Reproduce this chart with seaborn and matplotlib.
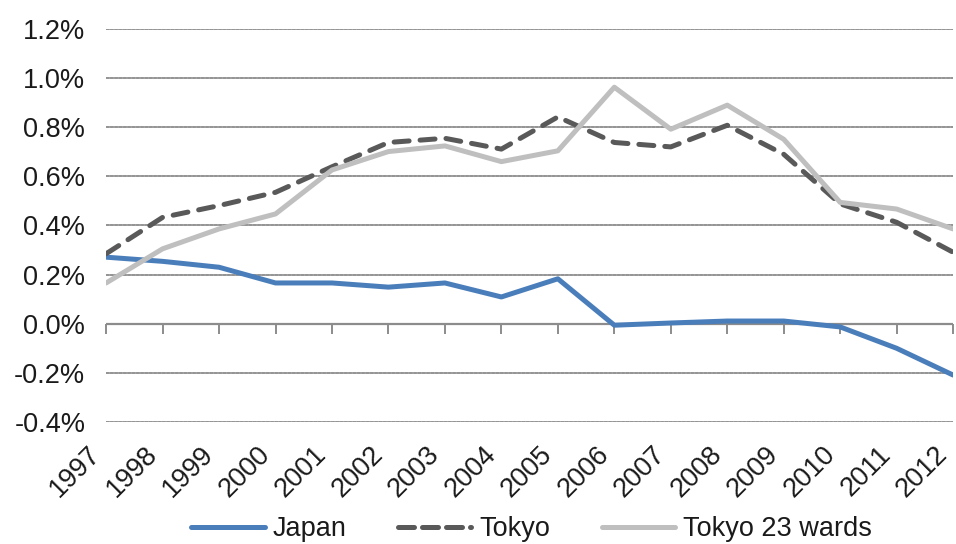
import matplotlib
matplotlib.use("Agg")
import matplotlib.pyplot as plt
from matplotlib.lines import Line2D
import seaborn as sns
import pandas as pd

years = list(range(1997, 2013))
japan = [0.271, 0.254, 0.230, 0.166, 0.166, 0.149, 0.166, 0.109, 0.183,
         -0.006, 0.003, 0.011, 0.011, -0.013, -0.100, -0.209]
tokyo = [0.285, 0.433, 0.481, 0.535, 0.639, 0.738, 0.755, 0.711, 0.842,
         0.738, 0.720, 0.808, 0.690, 0.488, 0.413, 0.291]
wards23 = [0.166, 0.305, 0.386, 0.447, 0.626, 0.701, 0.724, 0.660, 0.704,
           0.963, 0.792, 0.890, 0.751, 0.494, 0.467, 0.386]
series_names = ["Japan", "Tokyo", "Tokyo 23 wards"]
y_ticks = [-0.4, -0.2, 0.0, 0.2, 0.4, 0.6, 0.8, 1.0, 1.2]

df = pd.DataFrame({
    "year": years * 3,
    "rate": japan + tokyo + wards23,
    "series": sum([[n] * len(years) for n in series_names], []),
})

sns.set_style("white")
plt.rcParams["font.family"] = ["Liberation Sans", "DejaVu Sans"]
plt.rcParams["text.color"] = "#1a1a1a"

colors = {"Japan": "#4a7ebb", "Tokyo": "#595959", "Tokyo 23 wards": "#bfbfbf"}
dashes = {"Japan": "", "Tokyo": (3, 2.2), "Tokyo 23 wards": ""}
FS = 19.5

fig = plt.figure(figsize=(9.56, 5.44), dpi=100)
ax = fig.add_axes([0.111, 0.2243, 0.886, 0.7224])

# grid lines first so the series sit on top
for v in y_ticks:
    if v != 0.0:
        ax.axhline(v, color="#8a8a8a", lw=1.3, ls=(0, (1.6, 0.8)), zorder=1)
ax.axhline(0.0, color="#8c8c8c", lw=1.6, zorder=1)

sns.lineplot(data=df, x="year", y="rate", hue="series", style="series",
             palette=colors, dashes=dashes, lw=3.6, ax=ax, legend=False,
             zorder=3)
for ln in ax.lines:
    ln.set_dash_capstyle("round")
    ln.set_solid_capstyle("round")

ax.set_xlim(years[0], years[-1])
ax.set_ylim(-0.4, 1.2)
ax.set_yticks(y_ticks)
ax.set_yticklabels([f"{v:.1f}%" for v in y_ticks], fontsize=FS,
                   color="#1a1a1a")
ax.set_xticks(years)
ax.set_xticklabels([str(y) for y in years], fontsize=FS, rotation=45,
                   ha="right", va="top", color="#1a1a1a")
ax.tick_params(axis="x", length=0, pad=14)
ax.tick_params(axis="y", length=0, pad=15)
ax.set_xlabel("")
ax.set_ylabel("")
for s in ax.spines.values():
    s.set_visible(False)

# tick marks on the zero line
sec = ax.secondary_xaxis(0.25)
sec.set_xticks(years)
sec.tick_params(axis="x", direction="out", length=7, width=1.4,
                color="#8c8c8c", labelbottom=False)
for s in sec.spines.values():
    s.set_visible(False)

handles = [Line2D([], [], color=colors[n], lw=3.6,
                  ls=("--" if n == "Tokyo" else "-"),
                  dashes=((3.2, 1.6) if n == "Tokyo" else (None, None)),
                  dash_capstyle="round", solid_capstyle="round")
           for n in series_names]
fig.legend(handles, series_names, loc="center",
           bbox_to_anchor=(0.556, 0.027), ncol=3, frameon=False,
           fontsize=FS, handlelength=2.7, handletextpad=0.3,
           columnspacing=1.9, borderpad=0.0)

fig.savefig("out.png", dpi=100)
